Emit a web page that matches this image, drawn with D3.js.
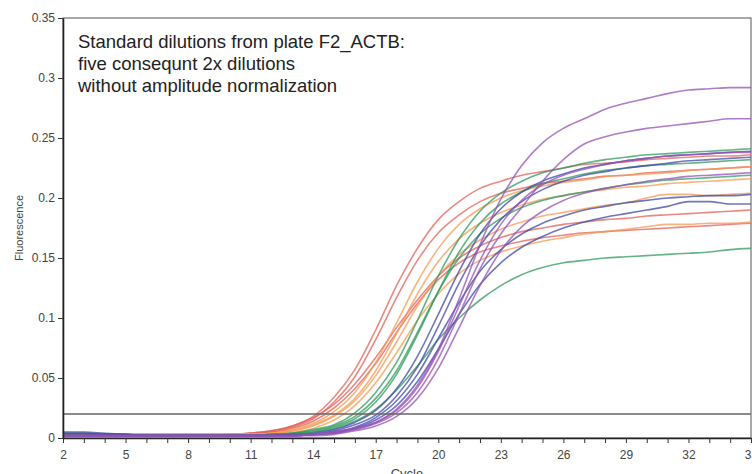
<!DOCTYPE html>
<html>
<head>
<meta charset="utf-8">
<script src="https://cdn.jsdelivr.net/npm/d3@7"></script>
<style>
  html, body { margin: 0; padding: 0; background: #fff; }
  svg { display: block; font-family: "Liberation Sans", Arial, sans-serif; }
</style>
</head>
<body>
<svg id="chart" width="752" height="474"></svg>
<script>
// cycles 2..35
const cycles = d3.range(2, 36);
const xTickLabels = [2, 5, 8, 11, 14, 17, 20, 23, 26, 29, 32, 35];
const yTickLabels = [0, 0.05, 0.1, 0.15, 0.2, 0.25, 0.3, 0.35];
const threshold = 0.02;
const titleLines = [
  'Standard dilutions from plate F2_ACTB:',
  'five consequnt 2x dilutions',
  'without amplitude normalization'
];

// dilution groups, each four replicate wells
const red1 = [0.002,0.002,0.002,0.002,0.002,0.002,0.002,0.002,0.003,0.004,0.006,0.010,0.018,0.034,0.057,0.090,0.127,0.158,0.182,0.197,0.208,0.214,0.219,0.222,0.225,0.228,0.229,0.230,0.232,0.233,0.234,0.235,0.235,0.236];
const red2 = [0.002,0.002,0.002,0.002,0.002,0.002,0.002,0.002,0.003,0.004,0.005,0.009,0.016,0.030,0.051,0.082,0.117,0.148,0.171,0.186,0.197,0.204,0.208,0.212,0.214,0.216,0.218,0.219,0.221,0.222,0.223,0.224,0.225,0.226];
const red3 = [0.003,0.003,0.003,0.003,0.003,0.003,0.003,0.003,0.003,0.004,0.006,0.010,0.017,0.028,0.045,0.067,0.092,0.115,0.135,0.150,0.160,0.167,0.172,0.175,0.178,0.180,0.182,0.183,0.185,0.186,0.187,0.188,0.189,0.190];
const red4 = [0.003,0.003,0.003,0.003,0.003,0.003,0.003,0.003,0.003,0.004,0.005,0.008,0.014,0.025,0.041,0.062,0.088,0.112,0.132,0.146,0.155,0.160,0.164,0.167,0.169,0.171,0.172,0.173,0.174,0.175,0.176,0.177,0.178,0.179];

const orange1 = [0.002,0.002,0.002,0.002,0.002,0.002,0.002,0.002,0.003,0.003,0.004,0.007,0.012,0.022,0.038,0.063,0.096,0.130,0.158,0.178,0.191,0.200,0.206,0.210,0.213,0.215,0.218,0.219,0.220,0.221,0.223,0.224,0.225,0.226];
const orange2 = [0.002,0.002,0.002,0.002,0.002,0.002,0.002,0.002,0.003,0.003,0.004,0.006,0.011,0.019,0.033,0.056,0.087,0.120,0.147,0.166,0.179,0.188,0.194,0.199,0.202,0.205,0.207,0.209,0.210,0.212,0.213,0.214,0.215,0.216];
const orange3 = [0.002,0.002,0.002,0.002,0.002,0.002,0.002,0.002,0.003,0.003,0.004,0.006,0.010,0.018,0.031,0.052,0.080,0.110,0.135,0.153,0.165,0.174,0.180,0.185,0.188,0.191,0.194,0.196,0.200,0.203,0.203,0.202,0.203,0.204];
const orange4 = [0.002,0.002,0.002,0.002,0.002,0.002,0.002,0.002,0.003,0.003,0.004,0.005,0.008,0.015,0.027,0.046,0.071,0.098,0.120,0.137,0.148,0.155,0.160,0.164,0.167,0.170,0.172,0.174,0.176,0.178,0.178,0.179,0.179,0.180];

const green1 = [0.004,0.004,0.003,0.003,0.002,0.002,0.002,0.002,0.002,0.002,0.003,0.004,0.007,0.011,0.021,0.038,0.063,0.098,0.135,0.166,0.189,0.204,0.214,0.221,0.225,0.229,0.232,0.234,0.236,0.237,0.238,0.239,0.240,0.241];
const green2 = [0.003,0.003,0.003,0.002,0.002,0.002,0.002,0.002,0.002,0.002,0.003,0.004,0.006,0.010,0.018,0.033,0.056,0.088,0.122,0.150,0.170,0.183,0.192,0.198,0.202,0.205,0.208,0.211,0.213,0.215,0.216,0.217,0.218,0.219];
const green3 = [0.002,0.002,0.002,0.002,0.002,0.002,0.002,0.002,0.002,0.002,0.003,0.004,0.005,0.008,0.014,0.024,0.040,0.060,0.082,0.100,0.115,0.127,0.136,0.142,0.146,0.148,0.150,0.151,0.152,0.153,0.154,0.155,0.157,0.158];
const green4 = [0.002,0.002,0.002,0.002,0.002,0.002,0.002,0.002,0.002,0.002,0.003,0.003,0.005,0.009,0.016,0.030,0.053,0.086,0.122,0.155,0.179,0.195,0.205,0.212,0.216,0.220,0.223,0.225,0.227,0.228,0.229,0.230,0.231,0.232];

const blue1 = [0.005,0.005,0.004,0.003,0.002,0.002,0.002,0.002,0.002,0.002,0.002,0.003,0.004,0.007,0.013,0.023,0.041,0.068,0.103,0.139,0.170,0.191,0.205,0.214,0.220,0.225,0.228,0.231,0.233,0.235,0.236,0.237,0.238,0.239];
const blue2 = [0.004,0.004,0.003,0.003,0.002,0.002,0.002,0.002,0.002,0.002,0.002,0.002,0.003,0.006,0.011,0.019,0.035,0.059,0.093,0.129,0.160,0.182,0.197,0.207,0.214,0.219,0.222,0.225,0.227,0.229,0.231,0.232,0.233,0.234];
const blue3 = [0.002,0.002,0.002,0.002,0.002,0.002,0.002,0.002,0.002,0.002,0.002,0.002,0.003,0.005,0.009,0.017,0.031,0.053,0.083,0.113,0.139,0.157,0.170,0.179,0.185,0.190,0.193,0.196,0.198,0.200,0.201,0.202,0.202,0.203];
const blue4 = [0.002,0.002,0.002,0.002,0.002,0.002,0.002,0.002,0.002,0.002,0.002,0.002,0.003,0.004,0.008,0.015,0.027,0.047,0.074,0.103,0.128,0.146,0.159,0.168,0.175,0.180,0.184,0.187,0.190,0.193,0.197,0.197,0.195,0.195];

const purple1 = [0.002,0.002,0.002,0.002,0.002,0.002,0.002,0.002,0.002,0.002,0.002,0.002,0.003,0.005,0.008,0.013,0.024,0.044,0.074,0.116,0.161,0.199,0.227,0.246,0.258,0.266,0.274,0.279,0.283,0.287,0.290,0.291,0.292,0.292];
const purple2 = [0.002,0.002,0.002,0.002,0.002,0.002,0.002,0.002,0.002,0.002,0.002,0.002,0.003,0.004,0.007,0.012,0.021,0.038,0.066,0.103,0.141,0.170,0.192,0.214,0.232,0.245,0.251,0.255,0.258,0.260,0.262,0.264,0.266,0.266];
const purple3 = [0.002,0.002,0.002,0.002,0.002,0.002,0.002,0.002,0.002,0.002,0.002,0.002,0.002,0.003,0.006,0.010,0.018,0.033,0.058,0.092,0.127,0.156,0.176,0.189,0.198,0.204,0.208,0.211,0.214,0.216,0.218,0.219,0.220,0.221];
const purple4 = [0.002,0.002,0.002,0.002,0.002,0.002,0.002,0.002,0.002,0.002,0.002,0.002,0.003,0.005,0.008,0.013,0.023,0.042,0.072,0.110,0.148,0.178,0.198,0.211,0.219,0.224,0.228,0.231,0.233,0.235,0.236,0.237,0.238,0.238];

const groups = [
  { color: '#e2615a', wells: [red1, red2, red3, red4] },
  { color: '#f79a52', wells: [orange1, orange2, orange3, orange4] },
  { color: '#2f9a5c', wells: [green1, green2, green3, green4] },
  { color: '#3f47a8', wells: [blue1, blue2, blue3, blue4] },
  { color: '#9550b5', wells: [purple1, purple2, purple3, purple4] }
];

const W = 752, H = 474;
const margin = { left: 63, right: 1, top: 18, bottom: 36 };
const svg = d3.select('#chart');

const x = d3.scaleLinear().domain([2, 35]).range([margin.left, W - margin.right]);
const y = d3.scaleLinear().domain([0, 0.35]).range([H - margin.bottom, margin.top]);

// frame
svg.append('rect')
  .attr('x', x(2)).attr('y', y(0.35))
  .attr('width', x(35) - x(2)).attr('height', y(0) - y(0.35))
  .attr('fill', 'none').attr('stroke', '#555').attr('stroke-width', 1);

// curves
const line = d3.line()
  .x((d, i) => x(cycles[i]))
  .y(d => y(d))
  .curve(d3.curveMonotoneX);

const plot = svg.append('g');
groups.forEach(g => {
  plot.selectAll(null).data(g.wells).enter().append('path')
    .attr('d', line)
    .attr('fill', 'none')
    .attr('stroke', g.color)
    .attr('stroke-opacity', 0.75)
    .attr('stroke-width', 1.6);
});

// threshold
svg.append('line')
  .attr('x1', x(2)).attr('x2', x(35))
  .attr('y1', y(threshold)).attr('y2', y(threshold))
  .attr('stroke', '#666').attr('stroke-width', 1.5);

// axes
const xAxis = svg.append('g').attr('transform', `translate(0,${y(0)})`)
  .call(d3.axisBottom(x).tickValues(cycles).tickSize(5).tickSizeOuter(0)
    .tickFormat(d => xTickLabels.includes(d) ? d : ''));
const yAxis = svg.append('g').attr('transform', `translate(${x(2)},0)`)
  .call(d3.axisLeft(y).tickValues(yTickLabels).tickSize(5).tickSizeOuter(0)
    .tickFormat(d => d === 0 ? '0' : d3.format('')(+d.toFixed(2))));

[xAxis, yAxis].forEach(a => {
  a.selectAll('.domain').attr('stroke', '#222').attr('stroke-width', 1.6);
  a.selectAll('.tick line').attr('stroke', '#333');
  a.selectAll('.tick text').attr('fill', '#444')
    .style('font-family', '"Liberation Sans", Arial, sans-serif').style('font-size', '12px');
});
xAxis.selectAll('.tick text').attr('dy', '1.05em');

// axis titles
svg.append('text')
  .attr('x', (x(2) + x(35)) / 2).attr('y', 478)
  .attr('text-anchor', 'middle').attr('fill', '#444').style('font-size', '13px')
  .text('Cycle');
svg.append('text')
  .attr('transform', `translate(23,${(y(0) + y(0.35)) / 2}) rotate(-90)`)
  .attr('text-anchor', 'middle').attr('fill', '#444').style('font-size', '11px')
  .text('Fluorescence');

// annotation
svg.append('g').selectAll('text').data(titleLines).enter().append('text')
  .attr('x', 78).attr('y', (d, i) => 48 + i * 22)
  .attr('fill', '#222').style('font-size', '18.5px')
  .text(d => d);
</script>
</body>
</html>
